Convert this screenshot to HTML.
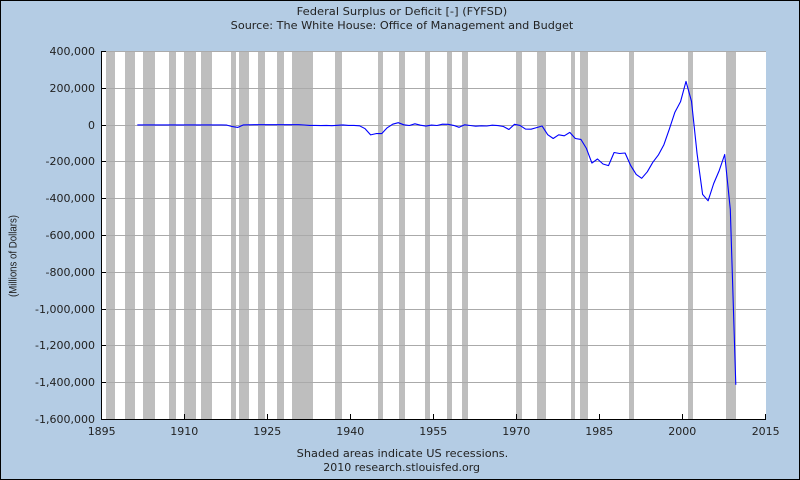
<!DOCTYPE html>
<html><head><meta charset="utf-8"><style>
html,body{margin:0;padding:0;}
body{width:800px;height:480px;overflow:hidden;}
svg{display:block;}
text{font-family:"DejaVu Sans","Liberation Sans",sans-serif;font-size:11px;fill:#222;}
</style></head><body>
<svg width="800" height="480" viewBox="0 0 800 480" xmlns="http://www.w3.org/2000/svg">
<rect x="0" y="0" width="800" height="480" fill="#b4cce4"/>
<rect x="0.5" y="0.5" width="799" height="479" fill="none" stroke="#000" stroke-width="1"/>
<!-- plot area -->
<rect x="102" y="51" width="664" height="368" fill="#fff"/>
<!-- recession bars -->
<g fill="#bebebe">
<rect x="106" y="51" width="9" height="368"/>
<rect x="125" y="51" width="10" height="368"/>
<rect x="143" y="51" width="12" height="368"/>
<rect x="169" y="51" width="7" height="368"/>
<rect x="184" y="51" width="12" height="368"/>
<rect x="201" y="51" width="11" height="368"/>
<rect x="231" y="51" width="5" height="368"/>
<rect x="239" y="51" width="10" height="368"/>
<rect x="258" y="51" width="7" height="368"/>
<rect x="277" y="51" width="7" height="368"/>
<rect x="292" y="51" width="21" height="368"/>
<rect x="335" y="51" width="7" height="368"/>
<rect x="378" y="51" width="5" height="368"/>
<rect x="399" y="51" width="6" height="368"/>
<rect x="425" y="51" width="5" height="368"/>
<rect x="447" y="51" width="5" height="368"/>
<rect x="462" y="51" width="6" height="368"/>
<rect x="516" y="51" width="6" height="368"/>
<rect x="537" y="51" width="9" height="368"/>
<rect x="571" y="51" width="4" height="368"/>
<rect x="580" y="51" width="8" height="368"/>
<rect x="629" y="51" width="5" height="368"/>
<rect x="688" y="51" width="5" height="368"/>
<rect x="726" y="51" width="10" height="368"/>
</g>
<!-- gridlines -->
<g fill="#aaaaaa">
<rect x="102" y="51" width="664" height="1"/>
<rect x="102" y="88" width="664" height="1"/>
<rect x="102" y="125" width="664" height="1"/>
<rect x="102" y="161" width="664" height="1"/>
<rect x="102" y="198" width="664" height="1"/>
<rect x="102" y="235" width="664" height="1"/>
<rect x="102" y="272" width="664" height="1"/>
<rect x="102" y="309" width="664" height="1"/>
<rect x="102" y="345" width="664" height="1"/>
<rect x="102" y="382" width="664" height="1"/>
</g>
<!-- axes -->
<rect x="101" y="51" width="1" height="369" fill="#000"/>
<rect x="101" y="419" width="665" height="1" fill="#000"/>
<!-- y ticks -->
<g fill="#000">
<rect x="102" y="51" width="4" height="1"/>
<rect x="102" y="88" width="4" height="1"/>
<rect x="102" y="125" width="4" height="1"/>
<rect x="102" y="161" width="4" height="1"/>
<rect x="102" y="198" width="4" height="1"/>
<rect x="102" y="235" width="4" height="1"/>
<rect x="102" y="272" width="4" height="1"/>
<rect x="102" y="309" width="4" height="1"/>
<rect x="102" y="345" width="4" height="1"/>
<rect x="102" y="382" width="4" height="1"/>
<!-- x ticks -->
<rect x="184" y="414" width="1" height="5"/>
<rect x="267" y="414" width="1" height="5"/>
<rect x="350" y="414" width="1" height="5"/>
<rect x="433" y="414" width="1" height="5"/>
<rect x="516" y="414" width="1" height="5"/>
<rect x="599" y="414" width="1" height="5"/>
<rect x="682" y="414" width="1" height="5"/>
<rect x="765" y="414" width="1" height="5"/>
</g>
<!-- data line -->
<polyline fill="none" stroke="#0000ff" stroke-width="1.1" stroke-linejoin="round" points="
137.3,124.9 221.3,124.9 226.8,125.1 232.3,126.6 237.9,127.4 243.4,124.9 248.9,124.8 254.4,124.7 298.7,124.7
304.2,125.0 309.8,125.4 315.3,125.4 320.8,125.6 326.4,125.4 331.9,125.7 337.4,125.3 343.0,124.9 348.5,125.4
354.0,125.4 359.6,125.8 365.1,128.7 370.6,134.9 376.1,133.6 381.7,133.6 387.2,127.8 392.7,124.2 398.3,122.7
403.8,124.8 409.4,125.5 414.9,123.8 420.4,125.2 425.9,126.1 431.5,125.1 437.0,125.5 442.5,124.2 448.1,124.3
453.6,125.4 459.1,127.3 464.7,124.8 470.2,125.5 475.7,126.2 481.3,125.8 486.8,126.0 492.3,125.2 497.9,125.6
503.4,126.5 508.9,129.5 514.5,124.3 520.0,125.4 525.5,129.1 531.1,129.2 536.6,127.6 542.1,126.0 547.7,134.7
553.2,138.5 558.7,134.8 564.3,135.8 569.8,132.4 575.3,138.5 580.9,139.4 586.4,148.4 591.9,163.1 597.5,159.0
603.0,164.0 608.5,165.6 614.1,152.5 619.6,153.5 625.1,153.0 630.7,165.6 636.2,174.4 641.7,178.3 647.3,171.8
652.8,162.3 658.3,155.1 663.9,144.7 669.4,128.9 674.9,112.2 680.5,101.8 686.0,81.4 691.5,101.3 697.1,153.9
702.6,194.4 708.1,200.8 713.7,183.5 719.2,170.6 724.7,154.5 730.3,209.3 735.8,384.8"/>
<!-- titles -->
<text x="296.7" y="15" textLength="210.6" lengthAdjust="spacingAndGlyphs">Federal Surplus or Deficit [-] (FYFSD)</text>
<text x="230.7" y="29" textLength="342.6" lengthAdjust="spacingAndGlyphs">Source: The White House: Office of Management and Budget</text>
<!-- y labels -->
<g text-anchor="end">
<text x="95" y="55">400,000</text>
<text x="95" y="92">200,000</text>
<text x="95" y="129">0</text>
<text x="95" y="165">-200,000</text>
<text x="95" y="202">-400,000</text>
<text x="95" y="239">-600,000</text>
<text x="95" y="276">-800,000</text>
<text x="95" y="313">-1,000,000</text>
<text x="95" y="349">-1,200,000</text>
<text x="95" y="386">-1,400,000</text>
<text x="95" y="423">-1,600,000</text>
</g>
<!-- x labels -->
<g text-anchor="middle">
<text x="101.7" y="435">1895</text>
<text x="184.3" y="435">1910</text>
<text x="267.3" y="435">1925</text>
<text x="350.3" y="435">1940</text>
<text x="433.3" y="435">1955</text>
<text x="516.3" y="435">1970</text>
<text x="599.3" y="435">1985</text>
<text x="682.3" y="435">2000</text>
<text x="765.7" y="435">2015</text>
</g>
<!-- y axis title -->
<text transform="translate(16.5,256) rotate(-90)" text-anchor="middle" style="font-family:'Liberation Sans',sans-serif;font-size:11px" textLength="82" lengthAdjust="spacingAndGlyphs">(Millions of Dollars)</text>
<!-- footer -->
<text x="296.7" y="457" textLength="211.6" lengthAdjust="spacingAndGlyphs">Shaded areas indicate US recessions.</text>
<text x="323.3" y="471" textLength="156.7" lengthAdjust="spacingAndGlyphs">2010 research.stlouisfed.org</text>
</svg>
</body></html>
